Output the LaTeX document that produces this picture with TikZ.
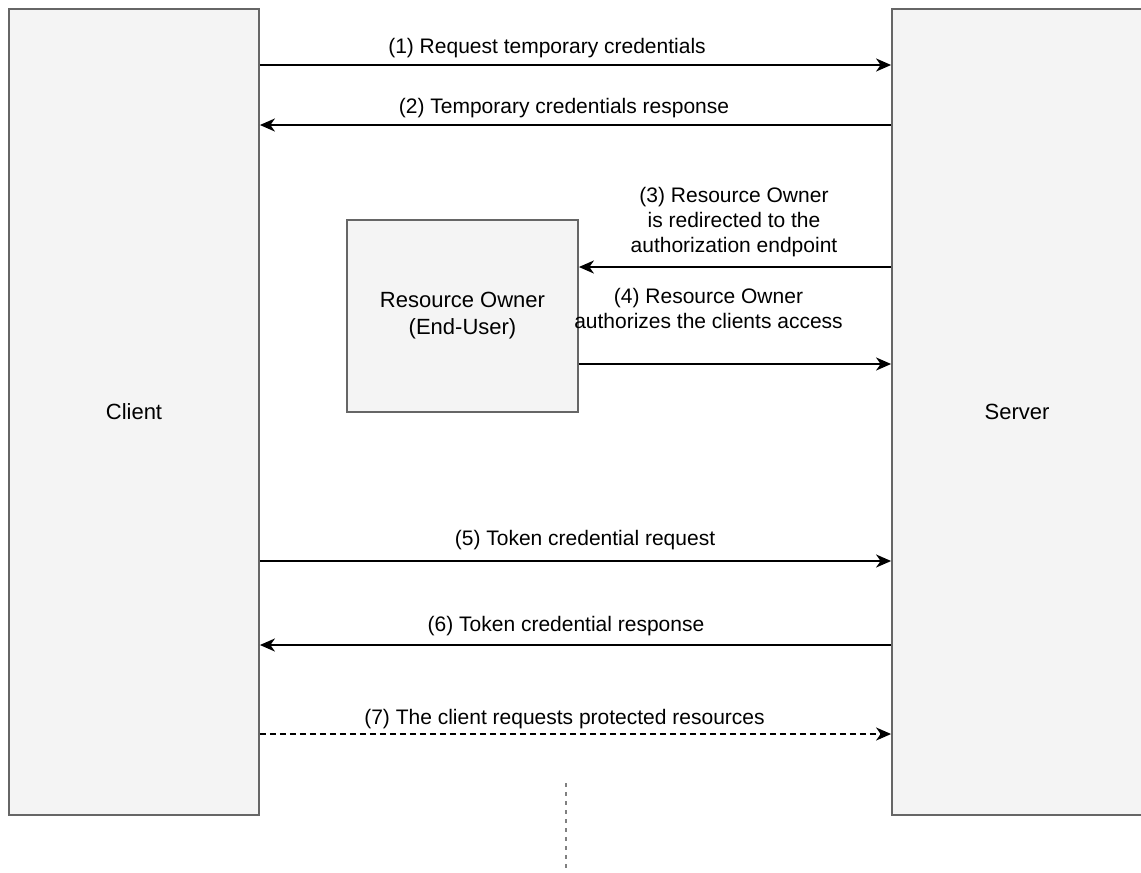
\documentclass[tikz,border=0pt]{standalone}
\usepackage{fontspec}
\setmainfont{Liberation Sans}
\usetikzlibrary{arrows.meta}
\definecolor{boxfill}{HTML}{F4F4F4}
\definecolor{boxline}{HTML}{666666}
\begin{document}
\begin{tikzpicture}[x=1pt,y=-1pt,
  party/.style={draw=boxline, fill=boxfill, line width=1.8pt, inner sep=0pt,
    font=\fontsize{22}{27}\selectfont, align=center},
  msg/.style={line width=1.9pt, -{Stealth[length=15pt,width=13pt,inset=4.5pt]}},
  lbl/.style={font=\fontsize{21}{25}\selectfont, align=center, inner sep=0pt},
  guide/.style={draw=gray, line width=1.3pt, dash pattern=on 4pt off 5pt}]
  % page frame
  \useasboundingbox (0,0) rectangle (1141,873);
  \fill[white] (0,0) rectangle (1141,873);

  % participants (the server lane runs past the right edge)
  \node[party, minimum width=250pt, minimum height=806pt] (client) at (134,412) {Client};
  \node[party, minimum width=256pt, minimum height=806pt] (server) at (1020,412) {};
  \node[font=\fontsize{22}{27}\selectfont] (serverlabel) at (1017,412) {Server};
  \node[party, minimum width=231pt, minimum height=192pt] (owner) at (462.5,316)
    {Resource Owner\\(End-User)};

  % message flow
  \draw[msg] (client.east |- 0,65) -- (server.west |- 0,65);
  \node[lbl] (m1) at (547,48) {(1) Request temporary credentials};

  \draw[msg] (server.west |- 0,125) -- (client.east |- 0,125);
  \node[lbl] (m2) at (564,108) {(2) Temporary credentials response};

  \draw[msg] (server.west |- 0,267) -- (owner.east |- 0,267);
  \node[lbl] (m3) at (734,222) {(3) Resource Owner\\is redirected to the\\authorization endpoint};

  \draw[msg] (owner.east |- 0,364) -- (server.west |- 0,364);
  \node[lbl] (m4) at (708.5,308) {(4) Resource Owner\\authorizes the clients access};

  \draw[msg] (client.east |- 0,561) -- (server.west |- 0,561);
  \node[lbl] (m5) at (585,540) {(5) Token credential request};

  \draw[msg] (server.west |- 0,645) -- (client.east |- 0,645);
  \node[lbl] (m6) at (566,626) {(6) Token credential response};

  \draw[msg, dash pattern=on 6pt off 4pt] (client.east |- 0,734) -- (server.west |- 0,734);
  \node[lbl] (m7) at (564.5,719) {(7) The client requests protected resources};

  % continuation marker below
  \coordinate (tailtop) at (566,783);
  \coordinate (tailend) at (566,873);
  \draw[guide] (tailtop) -- (tailend);
\end{tikzpicture}
\end{document}
